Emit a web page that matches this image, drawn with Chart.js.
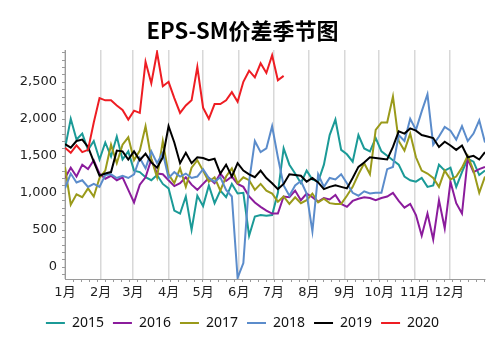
<!DOCTYPE html>
<html>
<head>
<meta charset="utf-8">
<script src="https://cdn.jsdelivr.net/npm/chart.js@4.4.1/dist/chart.umd.min.js"></script>
<style>
html,body{margin:0;padding:0;background:#fff;}
#wrap{width:500px;height:352px;position:relative;}
</style>
</head>
<body>
<div id="wrap"><canvas id="c" width="500" height="352"></canvas></div>
<script>
// day-of-year grid, one value every 5 days
const step=5;
const monthLabels=["1月","2月","3月","4月","5月","6月","7月","8月","9月","10月","11月","12月"];
const monthStarts=[0,31,59,90,120,151,181,212,243,273,304,334];
const yTicks=[0,500,1000,1500,2000,2500];

const years=["2015","2016","2017","2018","2019","2020"];
const colors=["#1b9a97","#8b1c9c","#9a9a1a","#5b8ccb","#000000","#ee1d23"];

const v2015=[1600,2000,1720,1800,1580,1700,1450,1680,1490,1760,1450,1560,1300,1280,1210,1170,1240,1120,1060,760,
720,950,500,960,820,1100,860,1030,940,1120,990,1000,420,680,700,690,700,1000,1600,1380,
1260,1130,1300,1180,1150,1380,1780,1990,1580,1520,1420,1780,1600,1560,1740,1560,1500,1440,1380,1220,
1170,1150,1200,1080,1100,1380,1300,1340,1080,1280,1460,1420,1240,1300];
const v2016=[1200,1340,1220,1380,1320,1440,1260,1190,1230,1170,1210,1040,870,1110,1210,1450,1260,1250,1170,1090,
1130,1210,1110,1040,1120,1200,1130,1260,1160,1220,1120,1080,950,870,810,760,720,720,950,940,
1030,900,990,940,880,930,910,970,850,810,890,920,940,930,900,930,950,1000,890,800,
850,700,420,720,370,900,520,1150,860,720,1460,1280,1320,1350];
const v2017=[1350,840,980,940,1060,950,1200,1300,1650,1400,1650,1750,1440,1570,1900,1460,1210,1700,1250,1130,
1330,1080,1340,1440,1300,1150,1210,1030,1220,1330,1130,1210,1170,1040,1120,1030,990,880,950,850,
940,860,900,990,870,920,860,850,850,960,1080,1250,1400,1250,1850,1950,1950,2300,1700,1570,
1800,1480,1300,1260,1200,1080,1300,1180,1220,1340,1500,1300,1000,1220];
const v2018=[1060,1260,1140,1170,1080,1120,1080,1240,1250,1200,1230,1200,1250,1470,1330,1560,1400,1540,1200,1280,
1220,1260,1200,1220,1320,1200,1150,1210,1040,950,-150,50,1150,1700,1550,1600,1900,1480,1100,960,
1100,1160,990,480,1250,1080,1200,1180,1250,1130,1000,960,1020,990,1000,1000,1320,1350,1780,1700,
2000,1850,2100,2330,1650,1760,1890,1840,1720,1900,1700,1800,1980,1680];
const v2019=[1660,1610,1700,1720,1620,1420,1230,1260,1280,1570,1560,1450,1560,1440,1530,1410,1340,1480,1900,1680,
1400,1540,1400,1480,1470,1440,1460,1260,1380,1220,1400,1300,1250,1210,1300,1200,1130,1050,1120,1250,
1240,1230,1150,1200,1140,1050,1080,1100,1080,1060,1200,1350,1410,1480,1470,1460,1450,1620,1830,1800,
1870,1840,1780,1760,1740,1620,1690,1640,1580,1640,1480,1500,1450,1550];
const v2020=[1610,1540,1640,1550,1580,1950,2280,2250,2250,2180,2120,1990,2110,2080,2770,2480,2900,2440,2500,2280,
2080,2180,2250,2700,2150,2000,2200,2200,2250,2360,2230,2500,2650,2560,2750,2620,2860,2520,2580];

const series=[v2015,v2016,v2017,v2018,v2019,v2020];

function commas(v){
return String(v).replace(/\B(?=(\d{3})+(?!\d))/g,",");
}

// small minor tick marks on both axes
const minorTicks={
id:"minorTicks",
afterDraw(chart){
const ctx=chart.ctx, x=chart.scales.x, y=chart.scales.y;
ctx.save();
ctx.strokeStyle="#9a9a9a";
ctx.lineWidth=1;
ctx.beginPath();
for(let v=-100;v<=2900;v+=100){
const py=Math.round(y.getPixelForValue(v))+0.5;
ctx.moveTo(x.left-3,py);ctx.lineTo(x.left,py);
}
for(let d=7;d<365;d+=7){
const px=Math.round(x.getPixelForValue(d))+0.5;
ctx.moveTo(px,y.bottom);ctx.lineTo(px,y.bottom+3);
}
ctx.stroke();
ctx.restore();
}
};

const datasets=series.map((s,k)=>({
label:years[k],
data:s.map((v,i)=>({x:i*step,y:v})),
borderColor:colors[k],
backgroundColor:colors[k],
borderWidth:2,
pointRadius:0,
tension:0,
order:5-k
}));

new Chart(document.getElementById("c"),{
type:"line",
data:{datasets:datasets},
plugins:[minorTicks],
options:{
responsive:false,
animation:false,
layout:{padding:{left:0,right:15,top:0,bottom:12}},
plugins:{
title:{
display:true,
text:"EPS-SM价差季节图",
color:"#000",
font:{family:"'Noto Sans CJK SC','DejaVu Sans'",size:22,weight:"bold"},
padding:{top:17,bottom:6.6}
},
legend:{
position:"bottom",
labels:{
sort:(a,b)=>a.datasetIndex-b.datasetIndex,
usePointStyle:true,
pointStyle:"line",
pointStyleWidth:19,
boxHeight:2,
padding:9,
color:"#111",
font:{family:"'Noto Sans','Noto Sans CJK SC'",size:14}
}
},
tooltip:{enabled:false}
},
scales:{
x:{
type:"linear",
min:0,
max:365,
afterBuildTicks:s=>{s.ticks=monthStarts.map(v=>({value:v}));},
afterFit:s=>{s.height=28;},
ticks:{
autoSkip:false,
maxRotation:0,
padding:6,
color:"#222",
font:{family:"'DejaVu Sans','Noto Sans CJK SC'",size:13},
callback:(v,i)=>monthLabels[i]
},
grid:{color:"#d8d8d8",lineWidth:1.5,drawTicks:false},
border:{color:"#9a9a9a",width:1}
},
y:{
min:-165,
max:2930,
afterBuildTicks:s=>{s.ticks=yTicks.map(v=>({value:v}));},
afterFit:s=>{s.width=65;},
ticks:{
z:1,
autoSkip:false,
padding:8,
color:"#222",
font:{family:"'DejaVu Sans'",size:13},
callback:v=>commas(v)
},
grid:{display:false,drawTicks:false},
border:{color:"#9a9a9a",width:1}
}
}
}
});
</script>
</body>
</html>
